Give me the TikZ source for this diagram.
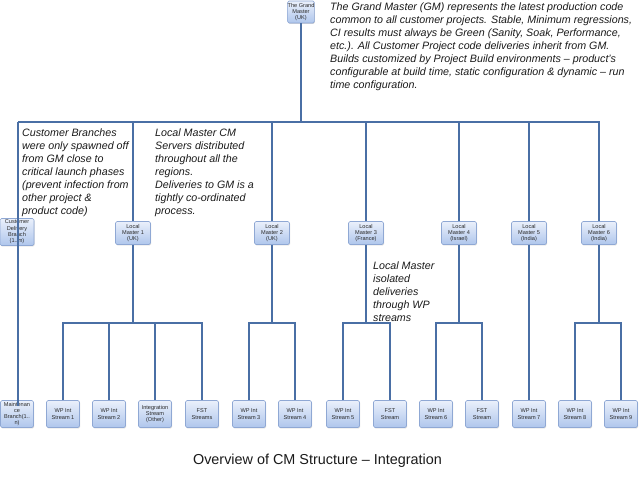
\documentclass[tikz,border=0pt]{standalone}
\usepackage{fontspec}
\setmainfont{Liberation Sans}
\usetikzlibrary{shadows}
\definecolor{linec}{HTML}{4A6FA5}
\definecolor{boxb}{HTML}{8FA8D4}
\definecolor{boxt}{HTML}{EAF0FB}
\definecolor{boxbot}{HTML}{AFC6EC}
\definecolor{txtc}{HTML}{2A2A2A}
\definecolor{notec}{HTML}{1A1A1A}
\tikzset{
  box/.style={draw=boxb, line width=0.6pt, rounded corners=1.5pt, top color=boxt, bottom color=boxbot,
    inner sep=0pt, align=center, font=\fontsize{5.6}{6.3}\selectfont, text=txtc,
    drop shadow={opacity=0.25, shadow xshift=0.6pt, shadow yshift=-0.9pt, fill=black!60}},
  lmbox/.style={box, minimum width=35pt, minimum height=23pt},
  leaf/.style={box, minimum width=33pt, minimum height=27pt},
  conn/.style={draw=linec, line width=1.3pt},
  note/.style={anchor=north west, inner sep=0pt, align=left, text=notec,
    font=\fontsize{10.7}{12.9}\selectfont\itshape}
}
\begin{document}
\begin{tikzpicture}[x=1pt,y=-1pt]
\useasboundingbox (0,0) rectangle (640,480);
% nodes
\node[box, minimum width=25pt, minimum height=22pt] (gm) at (301,12) {The Grand\\Master\\(UK)};
\node[box, minimum width=34pt, minimum height=27pt] (cdb) at (17,232) {Customer\\Delivery\\Branch\\(1..m)};
\node[lmbox] (lm1) at (133,233) {Local\\Master 1\\(UK)};
\node[lmbox] (lm2) at (272,233) {Local\\Master 2\\(UK)};
\node[lmbox] (lm3) at (366,233) {Local\\Master 3\\(France)};
\node[lmbox] (lm4) at (459,233) {Local\\Master 4\\(Israel)};
\node[lmbox] (lm5) at (529,233) {Local\\Master 5\\(India)};
\node[lmbox] (lm6) at (599,233) {Local\\Master 6\\(India)};
\node[leaf] (mb) at (17,414) {Maintenan\\ce\\Branch(1..\\n)};
\node[leaf] (wp1) at (63,414) {WP Int\\Stream 1};
\node[leaf] (wp2) at (109,414) {WP Int\\Stream 2};
\node[leaf] (ist) at (155,414) {Integration\\Stream\\(Other)};
\node[leaf] (fsa) at (202,414) {FST\\Streams};
\node[leaf] (wp3) at (249,414) {WP Int\\Stream 3};
\node[leaf] (wp4) at (295,414) {WP Int\\Stream 4};
\node[leaf] (wp5) at (343,414) {WP Int\\Stream 5};
\node[leaf] (fsb) at (390,414) {FST\\Stream};
\node[leaf] (wp6) at (436,414) {WP Int\\Stream 6};
\node[leaf] (fsc) at (482,414) {FST\\Stream};
\node[leaf] (wp7) at (529,414) {WP Int\\Stream 7};
\node[leaf] (wp8) at (575,414) {WP Int\\Stream 8};
\node[leaf] (wp9) at (621,414) {WP Int\\Stream 9};
% coordinates
\coordinate (busL) at (18,122);
\coordinate (busR) at (599,122);
\coordinate (sub) at (0,323);
\coordinate (cdbend) at (18,406);
% main bus
\draw[conn] (gm.south) -- (gm.south |- busL);
\draw[conn] (busL) -- (busR) -- (lm6.north);
\foreach \n in {lm1,lm2,lm3,lm4,lm5} {\draw[conn] (\n.north |- busL) -- (\n.north);}
\draw[conn] (busL) -- (cdbend);
% local master drops
\foreach \n in {lm1,lm2,lm3,lm4,lm6} {\draw[conn] (\n.south) -- (\n.south |- sub);}
\draw[conn] (lm5.south) -- (wp7.north);
% sub-buses
\draw[conn] (wp1.north) -- (wp1.north |- sub) -- (fsa.north |- sub) -- (fsa.north);
\draw[conn] (wp2.north) -- (wp2.north |- sub);
\draw[conn] (ist.north) -- (ist.north |- sub);
\draw[conn] (wp3.north) -- (wp3.north |- sub) -- (wp4.north |- sub) -- (wp4.north);
\draw[conn] (wp5.north) -- (wp5.north |- sub) -- (fsb.north |- sub) -- (fsb.north);
\draw[conn] (wp6.north) -- (wp6.north |- sub) -- (fsc.north |- sub) -- (fsc.north);
\draw[conn] (wp8.north) -- (wp8.north |- sub) -- (wp9.north |- sub) -- (wp9.north);
% notes
\node[note] (tnote) at (330,3) {The Grand Master (GM) represents the latest production code\\common to all customer projects. Stable, Minimum regressions,\\CI results must always be Green (Sanity, Soak, Performance,\\etc.). All Customer Project code deliveries inherit from GM.\\Builds customized by Project Build environments – product’s\\configurable at build time, static configuration \& dynamic – run\\time configuration.};
\node[note] (lnote) at (22,129) {Customer Branches\\were only spawned off\\from GM close to\\critical launch phases\\(prevent infection from\\other project \&\\product code)};
\node[note] (mnote) at (155,129) {Local Master CM\\Servers distributed\\throughout all the\\regions.\\Deliveries to GM is a\\tightly co-ordinated\\process.};
\node[note] (wnote) at (373,262) {Local Master\\isolated\\deliveries\\through WP\\streams};
\node[font=\fontsize{14.4}{16}\selectfont, text=notec, inner sep=0pt] (cap) at (317.5,461) {Overview of CM Structure – Integration};
\end{tikzpicture}
\end{document}
